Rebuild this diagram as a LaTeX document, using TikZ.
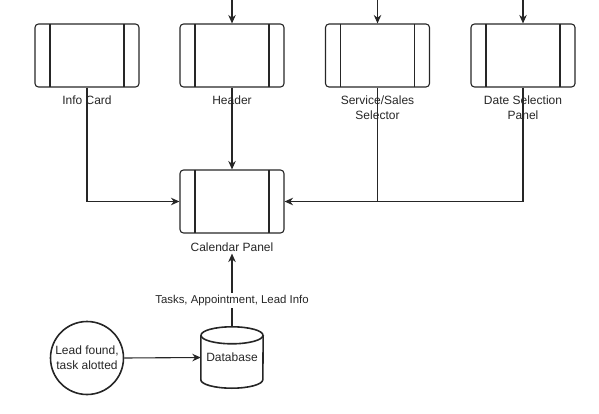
\documentclass[tikz,border=0pt]{standalone}
\usepackage{fontspec}
\setmainfont{Liberation Sans}
\usetikzlibrary{arrows.meta,calc}
\begin{document}
\begin{tikzpicture}[x=1pt,y=-1pt,
  line/.style={line width=1.1pt, draw=black!85},
  thick line/.style={line width=1.6pt, draw=black!85},
  arr/.style={line, -{Stealth[length=8.5pt,width=7.5pt]}},
  procbox/.style={line, rounded corners=3.5pt, minimum width=104pt, minimum height=63pt, inner sep=0pt,
    path picture={
      \draw[line width=1.1pt, draw=black!85] ([xshift=15pt]path picture bounding box.north west) -- ([xshift=15pt]path picture bounding box.south west);
      \draw[line width=1.1pt, draw=black!85] ([xshift=-15pt]path picture bounding box.north east) -- ([xshift=-15pt]path picture bounding box.south east);
    }},
  lbl/.style={font=\fontsize{12}{15}\selectfont, align=center, inner sep=2pt, text=black!85},
  elbl/.style={font=\fontsize{11.4}{13}\selectfont, fill=white, inner sep=2pt, text=black!85}
]
\useasboundingbox (0,0) rectangle (599,414);

% top boxes
\node[procbox] (info) at (87,55.5) {};
\node[procbox] (hdr)  at (232,55.5) {};
\node[procbox] (svc)  at (377.5,55.5) {};
\node[procbox] (date) at (523,55.5) {};

\node[lbl] (infolbl) at (87,100) {Info Card};
\node[lbl] (hdrlbl)  at (232,100) {Header};
\node[lbl] (svclbl)  at (377.5,107.5) {Service/Sales\\Selector};
\node[lbl] (datelbl) at (523,107.5) {Date Selection\\Panel};

% inputs from top
\coordinate (hin) at (232,0);
\coordinate (sin) at (377.5,0);
\coordinate (din) at (523,0);
\draw[arr] (hin) -- (hdr.north);
\draw[arr] (sin) -- (svc.north);
\draw[arr] (din) -- (date.north);

% calendar
\node[procbox] (cal) at (232,201.5) {};
\node[lbl] (callbl) at (232,247) {Calendar Panel};

\draw[arr] (info.south) |- (cal.west);
\draw[arr] (hdr.south) -- (cal.north);
\draw[arr] (date.south) |- (cal.east);
\draw[line] (svc.south) -- (svc.south |- cal.east);

% database
\node[minimum width=62pt, minimum height=61pt, inner sep=0pt, font=\fontsize{12}{14}\selectfont, text=black!85] (db) at (232,357.5) {Database};
\draw[thick line] ([yshift=-8.5pt]db.north) ellipse [x radius=31pt, y radius=8.5pt];
\draw[thick line] ([yshift=-8.5pt]db.north west) -- ([yshift=8.5pt]db.south west)
  arc[start angle=180, end angle=360, x radius=31pt, y radius=8.5pt] -- ([yshift=-8.5pt]db.north east);

\draw[arr] (db.north) -- node[elbl, pos=0.36] {Tasks, Appointment, Lead Info} (callbl.south);

% lead circle
\node[thick line, circle, minimum size=73pt, inner sep=0pt, align=center, font=\fontsize{12}{15}\selectfont, text=black!85] (lead) at (87,358) {Lead found,\\task alotted};
\draw[arr] (lead.east) -- (db.west);
\end{tikzpicture}
\end{document}
